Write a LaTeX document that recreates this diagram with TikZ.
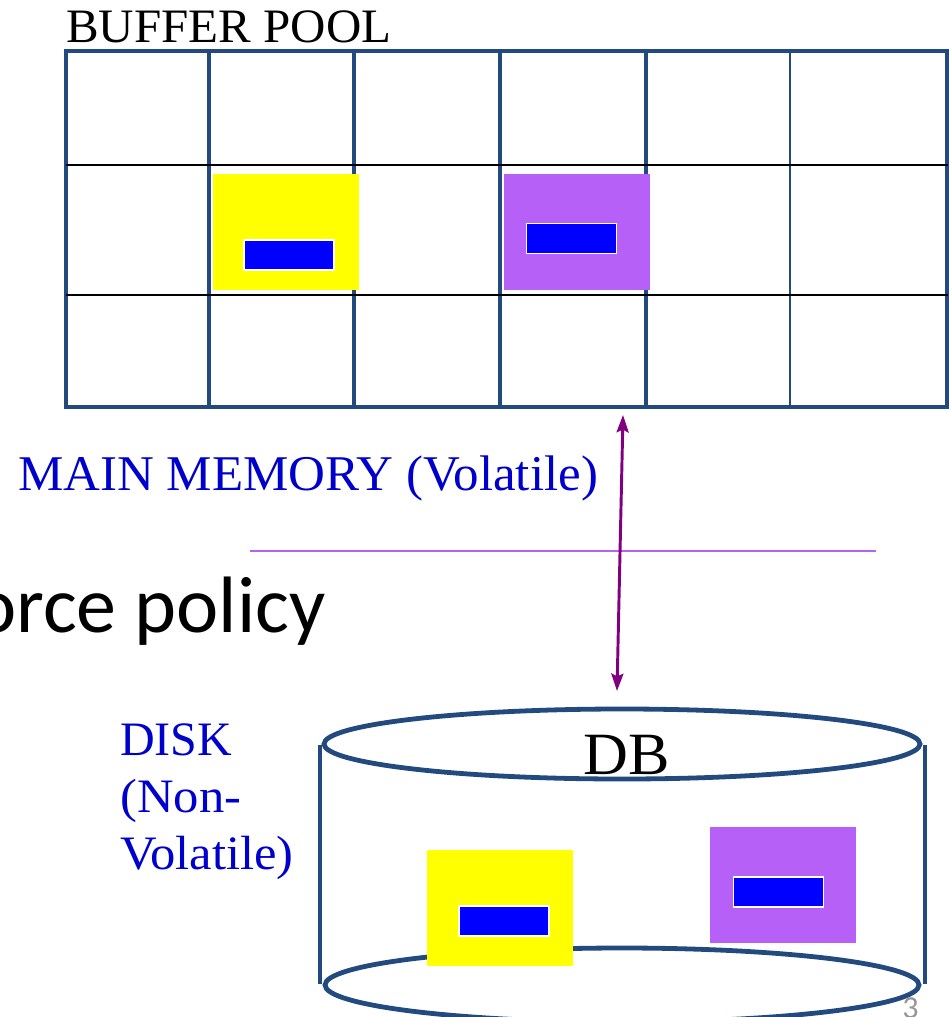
\documentclass[tikz,border=0pt]{standalone}
\usepackage{fontspec}
\usepackage{graphicx}
\setmainfont{Liberation Serif}
\newfontfamily\slidefont{Carlito}
\usetikzlibrary{arrows.meta}
\definecolor{gridblue}{RGB}{34,74,126}
\definecolor{labelblue}{RGB}{0,0,204}
\definecolor{pageyellow}{RGB}{255,255,0}
\definecolor{pagepurple}{RGB}{183,96,248}
\definecolor{recordblue}{RGB}{0,0,255}
\definecolor{linelilac}{RGB}{182,98,246}
\definecolor{arrowpurple}{RGB}{128,0,128}
\definecolor{pagenum}{RGB}{150,150,150}

\begin{document}
\begin{tikzpicture}[x=0.75pt,y=-0.75pt,
  page/.style={fill=#1, draw=none, minimum width=109.5pt, minimum height=87pt, inner sep=0pt},
  record/.style={fill=recordblue, draw=white, line width=0.8pt, minimum width=67.5pt, minimum height=22.5pt, inner sep=0pt},
  frameline/.style={draw=gridblue, line width=3.2pt},
  rowline/.style={draw=black, line width=1.9pt},
  diskline/.style={draw=gridblue, line width=3.6pt},
  label/.style={anchor=base west, inner sep=0pt, font=\fontsize{#1}{#1}\selectfont},
  flow/.style={arrowpurple, line width=2.2pt, {Stealth[length=13pt,width=9pt,inset=2pt]}-{Stealth[length=13pt,width=9pt,inset=2pt]}},
]
\useasboundingbox (0,0) rectangle (949,1017);
\clip (0,0) rectangle (949,1017);

% ---- buffer pool grid ----
\draw[frameline, line width=3.4pt] (66,51) rectangle (947.5,407);
\foreach \cx in {209,354,500,646} \draw[frameline] (\cx,51) -- (\cx,407);
\draw[frameline, line width=2.2pt] (790,51) -- (790,407);
\draw[rowline] (66,165) -- (948,165);
\draw[rowline] (66,295) -- (948,295);

% pages held in the pool
\node[page=pageyellow] (bufY) at (286,232) {};
\node[record] (bufYrec) at (289,255) {};
\node[page=pagepurple] (bufP) at (577,232) {};
\node[record, minimum width=68pt, minimum height=23pt] (bufPrec) at (571.5,238.5) {};

% ---- labels ----
\node[label=36] (poolLbl) at (66,42) {\scalebox{1.02}[1]{BUFFER POOL}};
\node[label=37.5, text=labelblue] (memLbl) at (18,490) {\scalebox{1.02}[1]{MAIN MEMORY (Volatile)}};
\node[anchor=base east, inner sep=0pt, font=\slidefont\fontsize{60}{60}\selectfont] (policy) at (326,632) {orce policy};
\node[label=36, text=labelblue] (diskLblA) at (120,755) {DISK};
\node[label=36, text=labelblue] (diskLblB) at (120,812) {\scalebox{1.055}[1]{(Non-}};
\node[label=36, text=labelblue] (diskLblC) at (120,869) {\scalebox{1.055}[1]{Volatile)}};

% memory / disk boundary
\draw[linelilac, line width=1.6pt] (250,551) -- (876,551);

% ---- disk cylinder ----
\draw[diskline] (622,985) ellipse [x radius=297, y radius=37];
\draw[diskline, line width=3pt] (320,745) -- (320,984);
\draw[diskline, line width=3pt] (925,745) -- (925,984);
\draw[diskline] (622,744) ellipse [x radius=298, y radius=35];
\node[label=45] (dbLbl) at (583,774) {\scalebox{1.035}[1]{DB}};

% pages stored on disk
\node[page=pageyellow] (diskY) at (500,908) {};
\node[record] (diskYrec) at (504,921) {};
\node[page=pagepurple] (diskP) at (783,885) {};
\node[record, minimum width=68pt] (diskPrec) at (778.5,892) {};

% transfer between memory and disk
\coordinate (memEnd) at (623,415);
\coordinate (diskEnd) at (617,691);
\draw[flow] (memEnd) -- (diskEnd);

\node[anchor=base west, inner sep=0pt, text=pagenum, font=\slidefont\fontsize{24}{24}\selectfont] (pageNo) at (902,1018) {3};
\end{tikzpicture}
\end{document}
